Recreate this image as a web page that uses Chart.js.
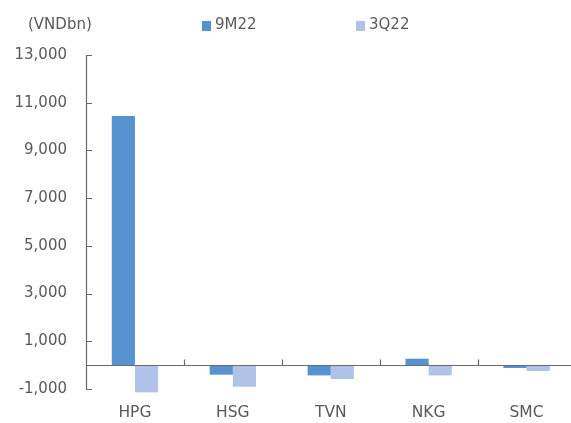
<!DOCTYPE html>
<html>
<head>
<meta charset="utf-8">
<script src="https://cdn.jsdelivr.net/npm/chart.js@4.4.0/dist/chart.umd.min.js"></script>
<style>
  html, body { margin: 0; padding: 0; background: #fff; overflow: hidden; }
  #wrap { position: relative; width: 571px; height: 423px; overflow: hidden; }
  #wrap canvas { position: absolute; left: 0; top: 0; }
  .lbl { position: absolute; font: 15px "DejaVu Sans", sans-serif; color: #595959; line-height: 18px; white-space: nowrap; }
  .sw { position: absolute; width: 9px; height: 10px; }
</style>
</head>
<body>
<div id="wrap">
  <canvas id="chart" width="580" height="423"></canvas>
  <div class="lbl" style="left:28px; top:15px;">(VNDbn)</div>
  <div class="sw" style="left:202px; top:21px; background:#5792d1;"></div>
  <div class="lbl" style="left:215px; top:15px;">9M22</div>
  <div class="sw" style="left:356px; top:21px; background:#aec3e7;"></div>
  <div class="lbl" style="left:369px; top:15px;">3Q22</div>
</div>
<script>
const categories = ["HPG", "HSG", "TVN", "NKG", "SMC"];
const values9M22 = [10440, -400, -430, 270, -120];
const values3Q22 = [-1140, -905, -580, -430, -245];
const yMin = -1000, yMax = 13000, yStep = 2000;

const axisColor = "#6a6a6a";

// axis lines, inward ticks and the zero line
const axesPlugin = {
  id: "axesPlugin",
  afterDatasetsDraw(chart) {
    const ctx = chart.ctx;
    const x = chart.scales.x, y = chart.scales.y;
    const left = chart.chartArea.left, right = chart.chartArea.right;
    const zeroY = y.getPixelForValue(0);
    ctx.save();
    ctx.strokeStyle = axisColor;
    ctx.lineWidth = 1.2;
    ctx.beginPath();
    ctx.moveTo(left + 0.5, y.getPixelForValue(yMax));
    ctx.lineTo(left + 0.5, y.getPixelForValue(yMin));
    y.ticks.forEach(t => {
      const py = Math.round(y.getPixelForValue(t.value)) + 0.5;
      ctx.moveTo(left, py);
      ctx.lineTo(left + 6, py);
    });
    const zy = Math.round(zeroY) + 0.5;
    ctx.moveTo(left, zy);
    ctx.lineTo(right, zy);
    for (let i = 1; i < categories.length; i++) {
      const bx = Math.round((x.getPixelForValue(i - 1) + x.getPixelForValue(i)) / 2) + 0.5;
      ctx.moveTo(bx, zy - 6);
      ctx.lineTo(bx, zy);
    }
    ctx.stroke();
    ctx.restore();
  }
};

new Chart(document.getElementById("chart"), {
  type: "bar",
  data: {
    labels: categories,
    datasets: [
      { label: "9M22", data: values9M22, backgroundColor: "#5792d1", clip: false },
      { label: "3Q22", data: values3Q22, backgroundColor: "#aec3e7", clip: false }
    ]
  },
  options: {
    responsive: false,
    animation: false,
    layout: { padding: { top: 55, right: 4.5, bottom: 0, left: 0 } },
    datasets: { bar: { categoryPercentage: 0.473, barPercentage: 1 } },
    plugins: { legend: { display: false }, tooltip: { enabled: false } },
    scales: {
      x: {
        grid: { display: false, drawTicks: false },
        border: { display: false },
        ticks: { color: "#595959", font: { family: "DejaVu Sans", size: 15.5 }, padding: 15 },
        afterFit(scale) { scale.height = 34; }
      },
      y: {
        min: yMin,
        max: yMax,
        grid: { display: false, drawTicks: false },
        border: { display: false },
        ticks: {
          stepSize: yStep,
          padding: 19,
          color: "#595959",
          font: { family: "DejaVu Sans", size: 15 },
          callback: v => v.toLocaleString("en-US")
        },
        afterFit(scale) { scale.width = 86; }
      }
    }
  },
  plugins: [axesPlugin]
});
</script>
</body>
</html>
